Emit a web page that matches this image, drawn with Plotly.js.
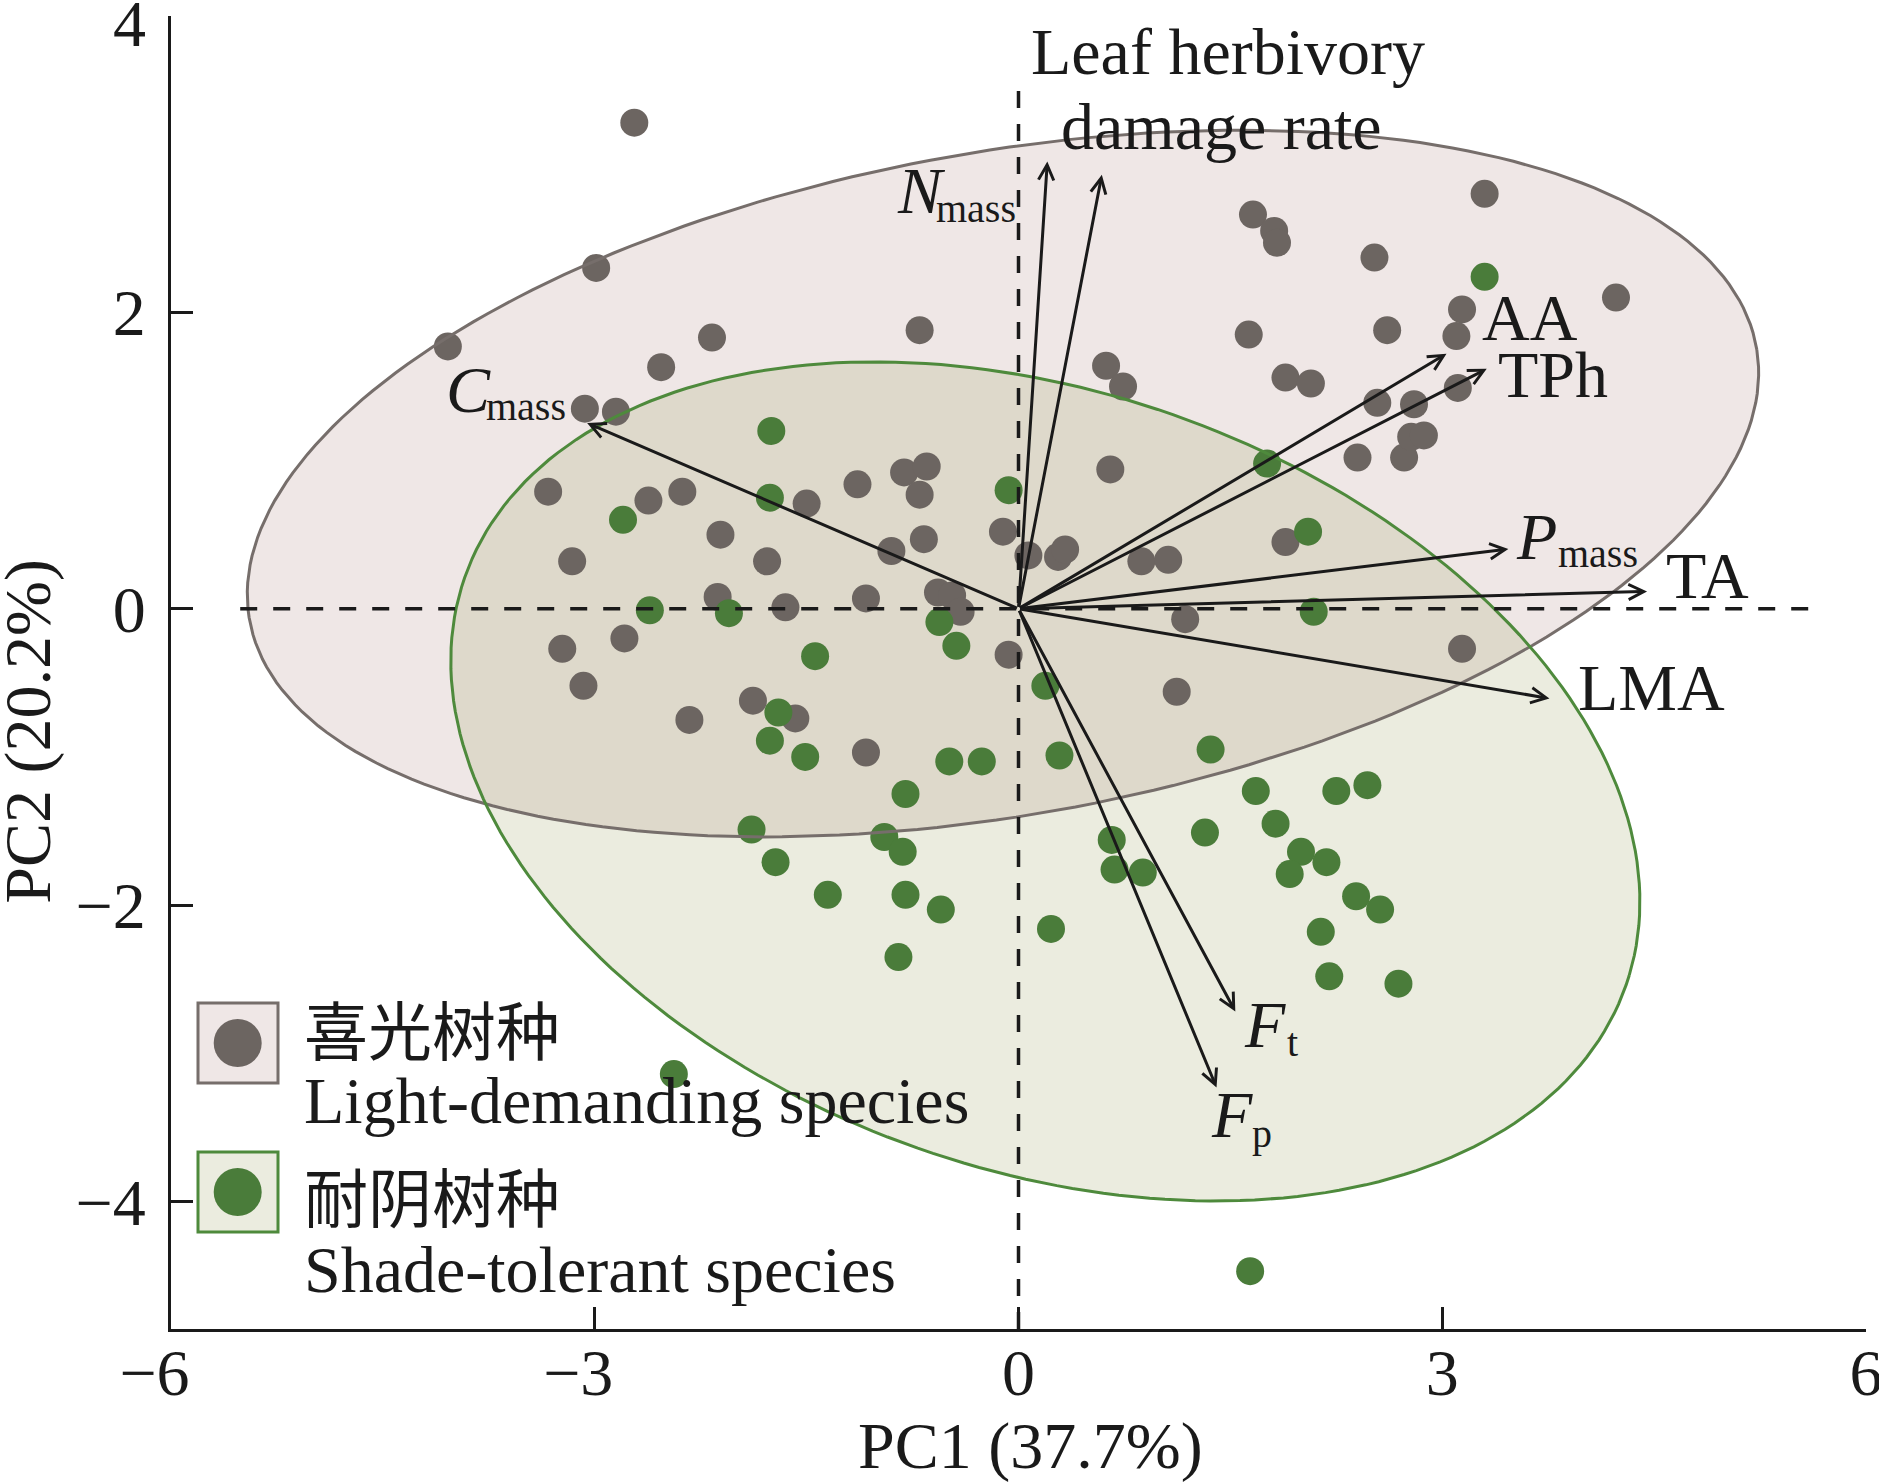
<!DOCTYPE html>
<html>
<head>
<meta charset="utf-8">
<script src="https://cdn.plot.ly/plotly-3.0.1.min.js"></script>
<style>
html,body{margin:0;padding:0;background:#ffffff;}
#chart{width:1879px;height:1484px;}
</style>
</head>
<body>
<div id="chart"></div>
<script>
// ---- data (PCA scores) ----
const lightX = [-2.72,-2.99,-4.04,-2.17,-2.53,-0.70,-3.07,-2.85,-3.33,-2.62,-2.38,-2.11,-3.16,-1.78,-1.50,-1.14,-0.81,-0.65,-0.70,-0.11,-0.67,-0.90,0.07,-2.13,-1.65,-1.08,-0.57,-0.47,-0.41,-3.23,-2.79,-3.08,-2.33,-1.88,-1.58,-1.08,-0.07,0.28,0.33,0.65,0.62,0.74,0.87,1.06,1.18,1.12,1.66,1.81,1.83,2.52,3.30,1.63,1.89,2.07,2.61,3.14,3.10,4.23,2.54,2.80,3.11,2.40,2.73,2.78,2.87,1.89,3.14];
const lightY = [3.28,2.30,1.77,1.83,1.63,1.88,1.35,1.33,0.79,0.73,0.79,0.50,0.32,0.32,0.71,0.84,0.92,0.96,0.77,0.52,0.47,0.39,0.36,0.08,0.01,0.07,0.11,0.09,-0.02,-0.27,-0.20,-0.52,-0.75,-0.62,-0.74,-0.97,-0.31,0.35,0.40,0.94,1.64,1.50,0.32,0.33,-0.07,-0.56,2.66,2.55,2.47,2.37,2.80,1.85,1.56,1.52,1.88,2.02,1.84,2.10,1.39,1.38,1.49,1.02,1.02,1.16,1.17,0.45,-0.27];

const shadeX = [3.30,-1.75,-2.80,-1.76,-0.07,1.76,2.05,2.09,-2.61,-2.05,-1.44,-0.56,-0.44,0.19,-1.70,-1.76,-1.51,-0.49,-0.26,0.29,1.36,-0.80,-1.89,-0.95,-0.82,-1.72,-1.35,-0.80,-0.55,-0.85,0.23,0.66,0.68,0.88,1.32,1.68,2.25,2.47,1.82,2.00,2.18,1.92,2.39,2.56,2.14,2.20,2.69,-2.44,1.64];
const shadeY = [2.24,1.20,0.60,0.75,0.80,0.98,0.52,-0.02,-0.01,-0.03,-0.32,-0.09,-0.25,-0.52,-0.70,-0.89,-1.00,-1.03,-1.03,-0.99,-0.95,-1.25,-1.49,-1.54,-1.64,-1.71,-1.93,-1.93,-2.03,-2.35,-2.16,-1.56,-1.76,-1.78,-1.51,-1.23,-1.23,-1.19,-1.45,-1.64,-1.71,-1.79,-1.94,-2.03,-2.18,-2.48,-2.53,-3.14,-4.47];

// trait loadings (arrow tips)
const loadingNames = ['Cmass','Nmass','Leaf herbivory damage rate','AA','TPh','Pmass','TA','LMA','Ft','Fp'];
const loadingX = [-3.054, 0.204, 0.590, 3.030, 3.315, 3.468, 4.450, 3.759, 1.535, 1.402];
const loadingY = [1.253, 3.018, 2.928, 1.721, 1.619, 0.403, 0.117, -0.605, -2.718, -3.231];

// confidence ellipses: [centre x, centre y, semi-axis a, semi-axis b, rotation (deg)]
const lightEllipse = [-0.11, 0.845, 5.413, 2.238, 9.61];
const shadeEllipse = [0.19, -1.165, 4.336, 2.633, -17.58];

// axis ticks
const xTicks = [-6, -3, 0, 3, 6];
const xTickText = ['\u22126\u2002', '\u22123\u2002', '0', '3', '6'];
const yTicks = [-4, -2, 0, 2, 4];
const yTickText = ['\u22124', '\u22122', '0', '2', ''];
const yTopTick = '4';

// labels
const xTitle = 'PC1 (37.7%)';
const yTitle = 'PC2 (20.2%)';
const legendCN = ['喜光树种', '耐阴树种'];
const legendEN = ['Light-demanding species', 'Shade-tolerant species'];

// ---- styling / geometry ----
const W = 1879, H = 1484;
const M = {l: 171, r: 13, t: 16, b: 155};
const PW = W - M.l - M.r, PH = H - M.t - M.b;
const px = v => (v - M.l) / PW;           // pixel -> paper x
const py = v => (H - M.b - v) / PH;       // pixel -> paper y
const INK = '#1a1a1a';
const SERIF = 'Liberation Serif, Times New Roman, serif';
const CJK = 'Noto Sans CJK SC, Noto Sans CJK JP, sans-serif';
const FS = 66, SUB = 40;
const LIGHT_PT = '#6c6561', SHADE_PT = '#4a7c3a';
const LIGHT_FILL = '#efe7e6', SHADE_FILL = 'rgba(164,169,110,0.22)';
const LIGHT_EDGE = '#766e6b', SHADE_EDGE = '#4e8a3c';

function ellipse(p) {
  const [cx, cy, a, b, deg] = p;
  const t = deg * Math.PI / 180, xs = [], ys = [];
  for (let i = 0; i <= 240; i++) {
    const u = 2 * Math.PI * i / 240;
    const ex = a * Math.cos(u), ey = b * Math.sin(u);
    xs.push(cx + ex * Math.cos(t) - ey * Math.sin(t));
    ys.push(cy + ex * Math.sin(t) + ey * Math.cos(t));
  }
  return {xs, ys};
}
const eL = ellipse(lightEllipse), eS = ellipse(shadeEllipse);

const traces = [
  {x: eL.xs, y: eL.ys, mode: 'lines', fill: 'toself', fillcolor: LIGHT_FILL, line: {width: 0, color: LIGHT_FILL}, hoverinfo: 'skip'},
  {x: eS.xs, y: eS.ys, mode: 'lines', fill: 'toself', fillcolor: SHADE_FILL, line: {width: 0, color: SHADE_FILL}, hoverinfo: 'skip'},
  {x: lightX, y: lightY, mode: 'markers', name: legendEN[0], marker: {size: 28, color: LIGHT_PT, line: {width: 0}}},
  {x: shadeX, y: shadeY, mode: 'markers', name: legendEN[1], marker: {size: 28, color: SHADE_PT, line: {width: 0}}},
  {x: eL.xs, y: eL.ys, mode: 'lines', line: {width: 3, color: LIGHT_EDGE}, hoverinfo: 'skip'},
  {x: eS.xs, y: eS.ys, mode: 'lines', line: {width: 3, color: SHADE_EDGE}, hoverinfo: 'skip'}
];

// ---- annotations ----
const ann = [];
for (let i = 0; i < loadingX.length; i++) {
  ann.push({x: loadingX[i], y: loadingY[i], xref: 'x', yref: 'y', ax: 0, ay: 0, axref: 'x', ayref: 'y',
    text: ' ', font: {size: 1}, showarrow: true, arrowhead: 5, arrowsize: 1, arrowwidth: 3,
    arrowcolor: INK, standoff: 0, startstandoff: 0});
}
// text placed by its baseline (pixel) position
function lab(text, xpix, basepix, xanchor, size, italic, family) {
  ann.push({text: italic ? '<i>' + text + '</i>' : text, xref: 'paper', yref: 'paper',
    x: px(xpix), y: py(basepix - 0.3375 * size), xanchor: xanchor, yanchor: 'middle',
    showarrow: false, borderpad: 0, font: {family: family || SERIF, size: size, color: INK}});
}
// loading labels
lab('Leaf herbivory', 1228, 74, 'center', FS);
lab('damage rate', 1221, 148.3, 'center', FS);
lab('N', 896, 213, 'left', FS, true);    lab('mass', 1017, 222, 'right', SUB);
lab('C', 445, 411.7, 'left', FS, true);  lab('mass', 485, 420, 'left', SUB);
lab('AA', 1480.6, 340, 'left', FS);
lab('TPh', 1496.7, 396.7, 'left', FS);
lab('P', 1514.7, 558.3, 'left', FS, true); lab('mass', 1556.9, 566.7, 'left', SUB);
lab('TA', 1665, 598, 'left', FS);
lab('LMA', 1577, 709.4, 'left', FS);
lab('F', 1243.3, 1046.3, 'left', FS, true); lab('t', 1286, 1056.3, 'left', SUB);
lab('F', 1210.1, 1136.3, 'left', FS, true); lab('p', 1251.3, 1147, 'left', SUB);
// top y tick label (kept inside the picture as in the original)
lab(yTopTick, 147.3, 46, 'right', FS);
// axis titles
lab(xTitle, 1030, 1468, 'center', FS);
ann.push({text: yTitle, xref: 'paper', yref: 'paper', x: px(27.7), y: py(731), xanchor: 'center', yanchor: 'middle',
  textangle: -90, showarrow: false, borderpad: 0, font: {family: SERIF, size: FS, color: INK}});
// legend text
ann.push({text: legendCN[0], xref: 'paper', yref: 'paper', x: px(303), y: py(1027), xanchor: 'left', yanchor: 'middle',
  showarrow: false, borderpad: 0, font: {family: CJK, size: 64, color: INK}});
lab(legendEN[0], 303, 1123, 'left', FS);
ann.push({text: legendCN[1], xref: 'paper', yref: 'paper', x: px(303), y: py(1194), xanchor: 'left', yanchor: 'middle',
  showarrow: false, borderpad: 0, font: {family: CJK, size: 64, color: INK}});
lab(legendEN[1], 303, 1291.7, 'left', FS);

// ---- shapes ----
const shapes = [
  {type: 'line', xref: 'x', yref: 'y', x0: 0, x1: 0, y0: -4.86, y1: 3.576, layer: 'above',
   line: {color: INK, width: 3.5, dash: '17px,16px'}},
  {type: 'line', xref: 'x', yref: 'y', x0: -5.51, x1: 5.69, y0: 0, y1: 0, layer: 'above',
   line: {color: INK, width: 3.5, dash: '17px,16px'}},
  {type: 'rect', xref: 'paper', yref: 'paper', x0: px(198), x1: px(278), y0: py(1083), y1: py(1003),
   fillcolor: LIGHT_FILL, line: {color: LIGHT_EDGE, width: 3}, layer: 'above'},
  {type: 'circle', xref: 'paper', yref: 'paper', x0: px(213.7), x1: px(261.7), y0: py(1067), y1: py(1019),
   fillcolor: LIGHT_PT, line: {width: 0}, layer: 'above'},
  {type: 'rect', xref: 'paper', yref: 'paper', x0: px(198), x1: px(278), y0: py(1232), y1: py(1152),
   fillcolor: '#ebecdf', line: {color: SHADE_EDGE, width: 3}, layer: 'above'},
  {type: 'circle', xref: 'paper', yref: 'paper', x0: px(213.7), x1: px(261.7), y0: py(1216), y1: py(1168),
   fillcolor: SHADE_PT, line: {width: 0}, layer: 'above'}
];

const axisCommon = {
  showgrid: false, zeroline: false, showline: true, linewidth: 3, linecolor: INK,
  ticks: 'inside', ticklen: 22, tickwidth: 3, tickcolor: INK, ticklabeloverflow: 'allow',
  tickfont: {family: SERIF, size: FS, color: INK}, fixedrange: true, tickmode: 'array'
};

const layout = {
  width: W, height: H, margin: M,
  paper_bgcolor: '#ffffff', plot_bgcolor: 'rgba(0,0,0,0)',
  showlegend: false,
  font: {family: SERIF, size: FS, color: INK},
  xaxis: Object.assign({}, axisCommon, {range: [-6, 6], tickvals: xTicks, ticktext: xTickText, ticklabelstandoff: -16}),
  yaxis: Object.assign({}, axisCommon, {range: [-4.86, 4], tickvals: yTicks, ticktext: yTickText, ticklabelstandoff: 9}),
  annotations: ann,
  shapes: shapes
};

Plotly.newPlot('chart', traces, layout, {staticPlot: true, responsive: false});
</script>
</body>
</html>
